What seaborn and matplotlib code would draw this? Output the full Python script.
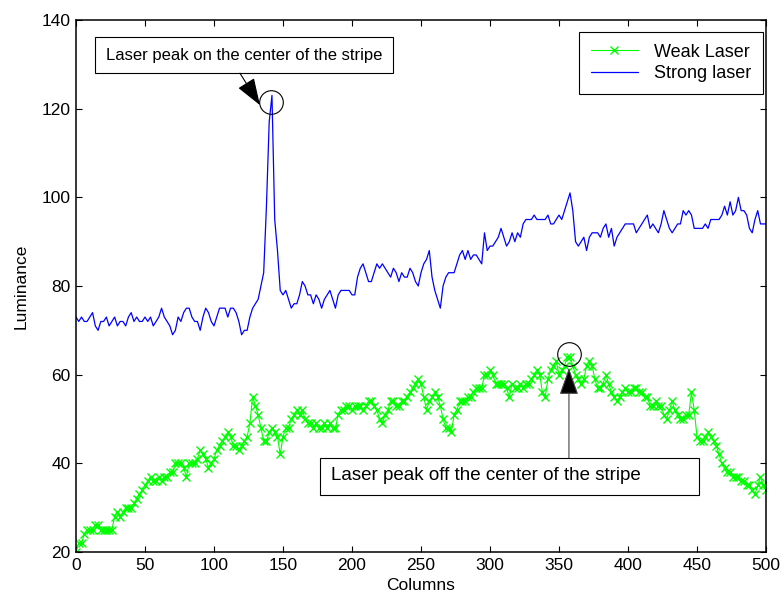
import numpy as np
import pandas as pd
import matplotlib
matplotlib.use("Agg")
import matplotlib.pyplot as plt
from matplotlib.patches import Rectangle
import seaborn as sns

# ---------------- data ----------------
columns = np.arange(0, 501, 2)

strong_laser = [
    73, 72, 73, 72, 72, 73, 74, 71, 70, 72, 72, 73, 71, 72, 73, 71, 72, 72, 71, 73,
    74, 72, 73, 72, 72, 73, 72, 73, 71, 72, 73, 75, 73, 72, 71, 69, 70, 73, 72, 74,
    75, 75, 73, 72, 72, 70, 73, 75, 74, 72, 71,
    73, 75, 75, 75, 73, 75, 75, 74, 72, 69, 70, 70, 73, 75, 76, 77, 80, 83, 98, 117,
    123, 95, 88, 79, 78, 79, 77, 75, 76, 76, 78, 81, 80, 78, 78, 76, 78, 77, 75, 77,
    78, 79, 77, 75, 78, 79, 79, 79, 79, 78,
    78, 82, 84, 85, 83, 81, 81, 83, 85, 84, 85, 84, 83, 82, 84, 83, 81, 83, 82, 82,
    84, 83, 81, 80, 83, 85, 86, 88, 82, 79, 77, 75, 80, 82, 83, 83, 83, 85, 87, 88,
    86, 88, 86, 87, 87, 86, 85, 92, 88, 89,
    89, 90, 91, 93, 91, 89, 90, 92, 90, 92, 91, 94, 95, 95, 95, 96, 95, 95, 95, 95,
    96, 94, 94, 95, 96, 95, 97, 99, 101, 97, 90, 89, 90, 91, 88, 91, 92, 92, 92, 91,
    93, 94, 91, 93, 89, 91, 92, 93, 94, 94,
    94, 94, 92, 93, 94, 95, 96, 93, 94, 93, 92, 94, 97, 95, 93, 92, 93, 94, 94, 97,
    96, 97, 96, 93, 93, 93, 93, 94, 93, 95, 95, 95, 95, 96, 98, 96, 99, 96, 97, 100,
    97, 97, 96, 93, 92, 95, 97, 94, 94, 94,
]

weak_laser = [
    20, 22, 22, 24, 25, 25, 25, 26, 26, 25, 25, 25, 25, 25, 28, 29, 28, 29, 30, 30,
    30, 31, 32, 33, 34, 35, 36, 37, 36, 36, 37, 36, 37, 37, 38, 38, 40, 40, 40, 39,
    37, 40, 40, 40, 41, 43, 42, 41, 39, 40, 41,
    43, 44, 45, 46, 47, 46, 44, 44, 43, 44, 45, 46, 49, 55, 53, 51, 48, 45, 45, 47,
    48, 47, 46, 42, 46, 48, 48, 50, 51, 52, 51, 52, 50, 49, 49, 48, 49, 48, 48, 49,
    48, 49, 48, 48, 51, 52, 52, 53, 53, 52,
    53, 53, 53, 52, 53, 54, 54, 53, 52, 50, 49, 51, 52, 54, 54, 53, 53, 54, 54, 55,
    56, 57, 58, 59, 58, 55, 52, 54, 55, 56, 55, 53, 50, 48, 48, 47, 51, 52, 54, 54,
    54, 55, 55, 56, 57, 57, 57, 60, 60, 61,
    60, 58, 58, 58, 58, 57, 55, 58, 57, 57, 58, 57, 58, 58, 59, 60, 61, 60, 56, 55,
    59, 61, 62, 63, 60, 61, 62, 64, 64, 62, 60, 59, 58, 59, 62, 63, 62, 59, 57, 57,
    58, 60, 58, 56, 55, 54, 55, 56, 57, 56,
    56, 57, 57, 56, 56, 55, 55, 53, 53, 54, 53, 53, 51, 50, 52, 54, 52, 51, 50, 50,
    51, 51, 56, 52, 46, 45, 45, 46, 47, 46, 45, 44, 42, 40, 39, 38, 38, 37, 37, 37,
    36, 36, 35, 35, 34, 33, 35, 37, 35, 34,
]

series_labels = ["Weak Laser", "Strong laser"]
x_ticks = [0, 50, 100, 150, 200, 250, 300, 350, 400, 450, 500]
y_ticks = [20, 40, 60, 80, 100, 120, 140]
note_on = "Laser peak on the center of the stripe"
note_off = "Laser peak off the center of the stripe"

if len(strong_laser) != len(columns) or len(weak_laser) != len(columns):
    raise ValueError(f"lengths {len(columns)} {len(strong_laser)} {len(weak_laser)}")

df_weak = pd.DataFrame({"Columns": columns, "Luminance": weak_laser})
df_strong = pd.DataFrame({"Columns": columns, "Luminance": strong_laser})

# ---------------- style ----------------
sns.set_style("white")
plt.rcParams["font.family"] = ["Liberation Sans", "DejaVu Sans"]
plt.rcParams["text.color"] = "black"
plt.rcParams["axes.labelcolor"] = "black"

fig = plt.figure(figsize=(7.8, 6.04), dpi=100)
ax = fig.add_axes([76 / 780, 52 / 604, 690 / 780, 532 / 604])

sns.lineplot(data=df_weak, x="Columns", y="Luminance", ax=ax, color=(0, 1, 0),
             lw=0.8, marker="x", markersize=5.5, markeredgewidth=1.0,
             markeredgecolor=(0, 1, 0), label=series_labels[0])
sns.lineplot(data=df_strong, x="Columns", y="Luminance", ax=ax, color=(0, 0, 1),
             lw=0.9, label=series_labels[1])

ax.set_xlim(0, 500)
ax.set_ylim(20, 140)
ax.set_xticks(x_ticks)
ax.set_yticks(y_ticks)
ax.tick_params(direction="in", length=4.5, width=0.8, top=True, right=True,
               bottom=True, left=True, labelsize=12.5, colors="black", pad=4)
for s in ax.spines.values():
    s.set_visible(True)
    s.set_color("black")
    s.set_linewidth(1.1)
ax.set_xlabel("Columns", fontsize=12.5, labelpad=4)
ax.set_ylabel("Luminance", fontsize=12.5, labelpad=9)

leg = ax.legend(loc="upper right", bbox_to_anchor=(0.9957, 0.9774), borderaxespad=0,
                fontsize=13, frameon=True, fancybox=False, framealpha=1,
                edgecolor="black", handlelength=2.6, handletextpad=0.9,
                borderpad=0.65, labelspacing=0.25)
leg.get_frame().set_linewidth(0.8)

# circles around the peaks
ax.plot([141.3], [121.5], marker="o", ms=17, mfc="none", mec="black", mew=0.8)
ax.plot([357.2], [64.7], marker="o", ms=17, mfc="none", mec="black", mew=0.8)

# annotation boxes
ax.add_patch(Rectangle((0.0275, 0.9004), 0.432, 0.0677, transform=ax.transAxes,
                       facecolor="white", edgecolor="black", lw=0.8, zorder=5))
ax.text(0.0435, 0.934, note_on, transform=ax.transAxes, ha="left", va="center",
        fontsize=12, zorder=6)
ax.add_patch(Rectangle((0.3536, 0.107), 0.549, 0.0695, transform=ax.transAxes,
                       facecolor="white", edgecolor="black", lw=0.8, zorder=5))
ax.text(0.3696, 0.1429, note_off, transform=ax.transAxes, ha="left", va="center",
        fontsize=13.5, zorder=6)

# arrows
arrow_style = "-|>,head_length=1.7,head_width=0.6"
ax.annotate("", xy=(133.3, 120.8), xytext=(118.8, 128.0),
            arrowprops=dict(arrowstyle=arrow_style, color="black", lw=0.8,
                            shrinkA=0, shrinkB=0), zorder=6)
ax.annotate("", xy=(357.2, 61.5), xytext=(357.2, 41.2),
            arrowprops=dict(arrowstyle=arrow_style, color="#444444", fc="black",
                            ec="#444444", lw=0.8, shrinkA=0, shrinkB=0), zorder=4)

fig.savefig("out.png", dpi=100)
